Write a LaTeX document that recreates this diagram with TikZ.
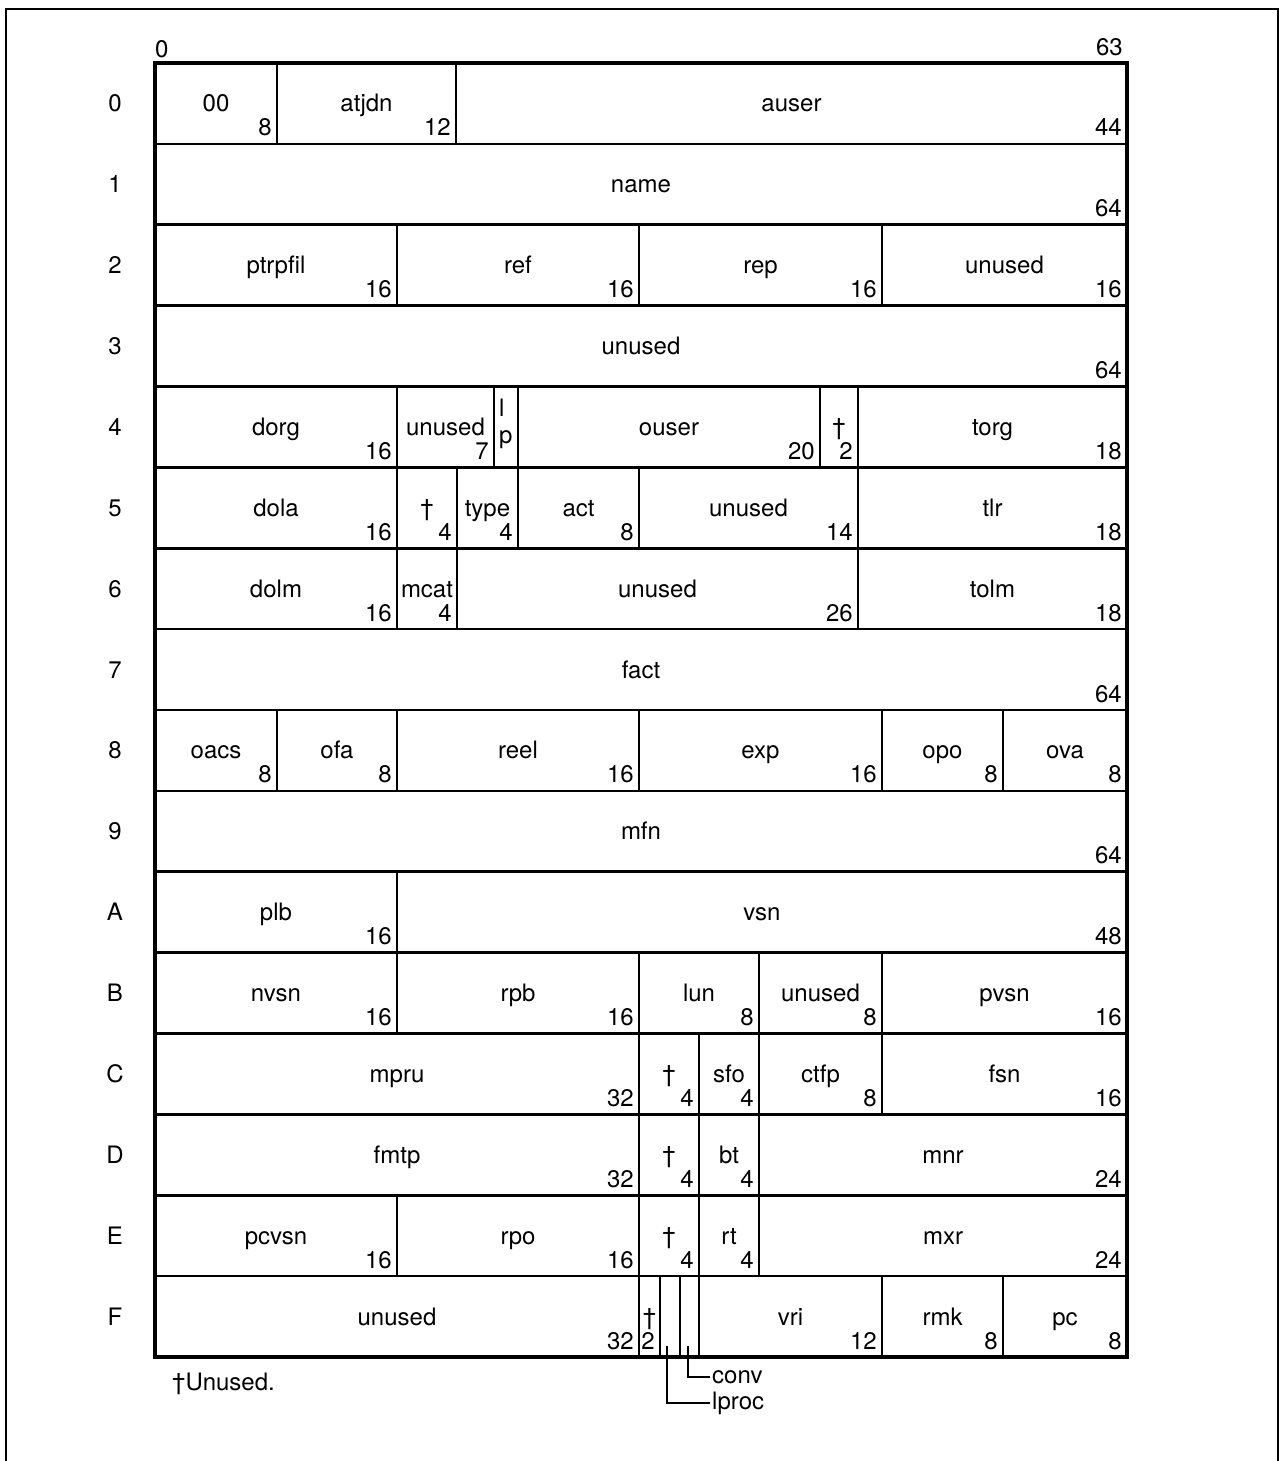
\documentclass[tikz,border=0pt]{standalone}
\usepackage{fontspec}
\setmainfont{TeX Gyre Heros}
\usetikzlibrary{calc}
\tikzset{
    field/.style={
        rectangle,
        draw=black,
        line width=2.6pt,
        inner sep=0pt,
        outer sep=0pt,
        minimum height=80.875pt,
        text height=17pt,
        text depth=0pt
    },
    bits/.style={
        anchor=base east,
        inner sep=0pt
    },
    rowlbl/.style={
        inner sep=0pt,
        text height=17pt,
        text depth=0pt
    },
    note/.style={
        anchor=base west,
        inner sep=0pt
    },
    leader/.style={line width=2pt},
    frame/.style={line width=2.6pt}
}
% one field of a word: name, row, left x, right x, text, bits
\newcommand{\fld}[6]{%
    \node[field, minimum width={#4-#3}] (#1) at ({(#3+#4)/2},{63+80.875*(#2+0.5)}) {#5};
    \node[bits] (#1n) at ($(#1.south east)+(-5,-8)$) {#6};
}

\begin{document}
\begin{tikzpicture}[x=1pt, y=-1pt, every node/.style={font=\fontsize{24}{27}\selectfont}]

        \useasboundingbox (0,0) rectangle (1285,1461);
        \draw[frame] (6,1470) -- (6,9) -- (1278,9) -- (1278,1470);

        \foreach \lbl [count=\i from 0] in {0,1,2,3,4,5,6,7,8,9,A,B,C,D,E,F}
            \node[rowlbl] (row\lbl) at (115,{63+80.875*(\i+0.5)}) {\lbl};

        \node[note] (bitfirst) at (155,58) {0};
        \node[bits] (bitlast) at (1123,56) {63};

        % row 0
        \fld{zero}{0}{155}{277}{00}{8}
        \fld{atjdn}{0}{277}{456}{atjdn}{12}
        \fld{auser}{0}{456}{1127}{auser}{44}
        % row 1
        \fld{name}{1}{155}{1127}{name}{64}
        % row 2
        \fld{ptrpfil}{2}{155}{397}{ptrpfil}{16}
        \fld{ref}{2}{397}{639}{ref}{16}
        \fld{rep}{2}{639}{882}{rep}{16}
        \fld{unusedtwo}{2}{882}{1127}{unused}{16}
        % row 3
        \fld{unusedthree}{3}{155}{1127}{unused}{64}
        % row 4
        \fld{dorg}{4}{155}{397}{dorg}{16}
        \fld{unusedfour}{4}{397}{494}{unused}{7}
        \node[field, minimum width=24] (lp) at (506,{63+80.875*4.5}) {};
        \node[note, anchor=north west, align=left] (lptext) at ($(lp.north west)+(5,12)$) {l\\p};
        \fld{ouser}{4}{518}{820}{ouser}{20}
        \fld{daggerfour}{4}{820}{858}{†}{2}
        \fld{torg}{4}{858}{1127}{torg}{18}
        % row 5
        \fld{dola}{5}{155}{397}{dola}{16}
        \fld{daggerfive}{5}{397}{457}{†}{4}
        \fld{type}{5}{457}{518}{type}{4}
        \fld{act}{5}{518}{639}{act}{8}
        \fld{unusedfive}{5}{639}{858}{unused}{14}
        \fld{tlr}{5}{858}{1127}{tlr}{18}
        % row 6
        \fld{dolm}{6}{155}{397}{dolm}{16}
        \fld{mcat}{6}{397}{457}{mcat}{4}
        \fld{unusedsix}{6}{457}{858}{unused}{26}
        \fld{tolm}{6}{858}{1127}{tolm}{18}
        % row 7
        \fld{fact}{7}{155}{1127}{fact}{64}
        % row 8
        \fld{oacs}{8}{155}{277}{oacs}{8}
        \fld{ofa}{8}{277}{397}{ofa}{8}
        \fld{reel}{8}{397}{639}{reel}{16}
        \fld{exp}{8}{639}{882}{exp}{16}
        \fld{opo}{8}{882}{1003}{opo}{8}
        \fld{ova}{8}{1003}{1127}{ova}{8}
        % row 9
        \fld{mfn}{9}{155}{1127}{mfn}{64}
        % row A
        \fld{plb}{10}{155}{397}{plb}{16}
        \fld{vsn}{10}{397}{1127}{vsn}{48}
        % row B
        \fld{nvsn}{11}{155}{397}{nvsn}{16}
        \fld{rpb}{11}{397}{639}{rpb}{16}
        \fld{lun}{11}{639}{759}{lun}{8}
        \fld{unusedB}{11}{759}{882}{unused}{8}
        \fld{pvsn}{11}{882}{1127}{pvsn}{16}
        % row C
        \fld{mpru}{12}{155}{639}{mpru}{32}
        \fld{daggerC}{12}{639}{699}{†}{4}
        \fld{sfo}{12}{699}{759}{sfo}{4}
        \fld{ctfp}{12}{759}{882}{ctfp}{8}
        \fld{fsn}{12}{882}{1127}{fsn}{16}
        % row D
        \fld{fmtp}{13}{155}{639}{fmtp}{32}
        \fld{daggerD}{13}{639}{699}{†}{4}
        \fld{bt}{13}{699}{759}{bt}{4}
        \fld{mnr}{13}{759}{1127}{mnr}{24}
        % row E
        \fld{pcvsn}{14}{155}{397}{pcvsn}{16}
        \fld{rpo}{14}{397}{639}{rpo}{16}
        \fld{daggerE}{14}{639}{699}{†}{4}
        \fld{rt}{14}{699}{759}{rt}{4}
        \fld{mxr}{14}{759}{1127}{mxr}{24}
        % row F
        \fld{unusedF}{15}{155}{639}{unused}{32}
        \fld{daggerF}{15}{639}{660}{†}{2}
        \node[field, minimum width=20] (lprocbit) at (670,{63+80.875*15.5}) {};
        \node[field, minimum width=19] (convbit) at (689.5,{63+80.875*15.5}) {};
        \fld{vri}{15}{699}{882}{vri}{12}
        \fld{rmk}{15}{882}{1003}{rmk}{8}
        \fld{pc}{15}{1003}{1127}{pc}{8}

        \draw[line width=3.2pt] (zero.north west) rectangle (pc.south east);

        \node[anchor=west, inner sep=2pt] (conv) at (710,1377) {conv};
        \node[anchor=west, inner sep=2pt] (lproc) at (710,1403) {lproc};
        \draw[leader] ([xshift=-1.5pt,yshift=11pt]convbit.south) |- (conv.west);
        \draw[leader] ([xshift=-3pt,yshift=11pt]lprocbit.south) |- (lproc.west);

        \node[note] (unusednote) at (172,1390) {†Unused.};

    \end{tikzpicture}
\end{document}
